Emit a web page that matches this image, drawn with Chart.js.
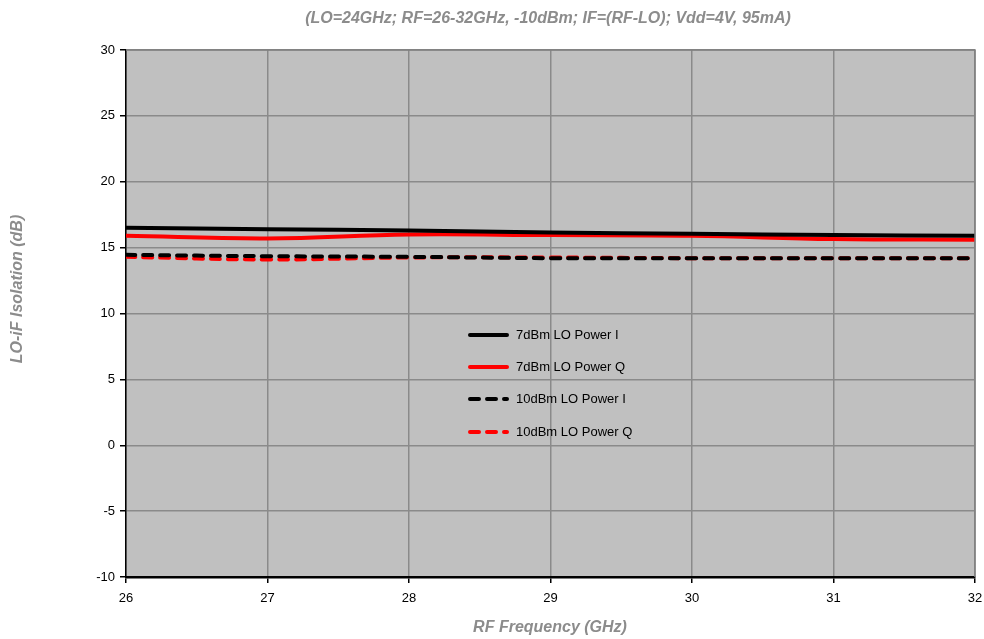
<!DOCTYPE html>
<html>
<head>
<meta charset="utf-8">
<script src="https://cdn.jsdelivr.net/npm/chart.js@4"></script>
<style>
  html, body { margin: 0; padding: 0; background: #fff; }
  #wrap { width: 984px; height: 639px; }
</style>
</head>
<body>
<div id="wrap"><canvas id="isoChart" width="984" height="639"></canvas></div>
<script>
// RF frequency points (GHz)
const freqs = [26, 27, 28, 29, 30, 31, 32];

// LO-IF isolation (dB)
const lo7I  = [16.5, 16.4, 16.3, 16.15, 16.05, 15.95, 15.9];
const lo7Q  = [15.9, 15.7, 16.0, 15.95, 15.9, 15.65, 15.6];
const lo10I = [14.45, 14.35, 14.3, 14.2, 14.2, 14.2, 14.2];
const lo10Q = [14.3, 14.1, 14.25, 14.25, 14.2, 14.2, 14.2];

const seriesNames = ['7dBm LO Power I', '7dBm LO Power Q', '10dBm LO Power I', '10dBm LO Power Q'];

const titleText = '(LO=24GHz; RF=26-32GHz, -10dBm; IF=(RF-LO); Vdd=4V, 95mA)';
const xTitle = 'RF Frequency (GHz)';
const yTitle = 'LO-iF Isolation (dB)';

function pts(vals) {
    return freqs.map((f, i) => ({ x: f, y: vals[i] }));
}

// Draws background, titles and the in-plot legend
const decor = {
    id: 'decor',
    beforeDraw(chart) {
        const { ctx, chartArea: a } = chart;
        ctx.save();
        ctx.fillStyle = '#c0c0c0';
        ctx.fillRect(a.left, a.top, a.right - a.left, a.bottom - a.top);
        ctx.restore();
    },
    afterDraw(chart) {
        const { ctx, chartArea: a } = chart;
        ctx.save();
        ctx.fillStyle = '#8c8c8c';
        ctx.font = 'italic bold 16px "Liberation Sans", Arial, sans-serif';
        ctx.textAlign = 'center';
        ctx.textBaseline = 'middle';
        ctx.fillText(titleText, 548, 19);
        ctx.fillText(xTitle, 550, 628);
        ctx.translate(18, 289);
        ctx.rotate(-Math.PI / 2);
        ctx.fillText(yTitle, 0, 0);
        ctx.restore();

        // legend
        ctx.save();
        ctx.font = '13px "Liberation Sans", Arial, sans-serif';
        ctx.textBaseline = 'middle';
        ctx.textAlign = 'left';
        const rowsY = [335, 367, 399, 432];
        chart.data.datasets.forEach((ds, i) => {
            const y = rowsY[i];
            ctx.beginPath();
            ctx.strokeStyle = ds.borderColor;
            ctx.lineWidth = 4;
            ctx.lineCap = 'round';
            ctx.setLineDash(ds.borderDash || []);
            ctx.moveTo(470, y);
            ctx.lineTo(507, y);
            ctx.stroke();
            ctx.setLineDash([]);
            ctx.fillStyle = '#000';
            ctx.fillText(seriesNames[i], 516, y);
        });
        ctx.restore();

        // top and right frame
        ctx.save();
        ctx.strokeStyle = '#808080';
        ctx.lineWidth = 1.5;
        ctx.beginPath();
        ctx.moveTo(a.left, a.top);
        ctx.lineTo(a.right, a.top);
        ctx.lineTo(a.right, a.bottom);
        ctx.stroke();
        ctx.restore();
    }
};

const ctx = document.getElementById('isoChart').getContext('2d');
new Chart(ctx, {
    type: 'line',
    data: {
        datasets: [
            { data: pts(lo7I),  borderColor: '#000000', borderWidth: 4, tension: 0.4 },
            { data: pts(lo7Q),  borderColor: '#ff0000', borderWidth: 4, tension: 0.4 },
            { data: pts(lo10I), borderColor: '#000000', borderWidth: 4, tension: 0.4, borderDash: [9, 8], borderCapStyle: 'round' },
            { data: pts(lo10Q), borderColor: '#ff0000', borderWidth: 4, tension: 0.4, borderDash: [9, 8], borderCapStyle: 'round' }
        ]
    },
    options: {
        responsive: false,
        animation: false,
        layout: { padding: { top: 50, right: 0, left: 0, bottom: 0 } },
        elements: { point: { radius: 0 } },
        plugins: { legend: { display: false }, tooltip: { enabled: false } },
        scales: {
            x: {
                type: 'linear',
                min: 26, max: 32,
                afterFit(s) { s.height = 62; s.paddingRight = 9; s.paddingLeft = 0; },
                ticks: {
                    stepSize: 1, color: '#000', padding: 8,
                    font: { family: '"Liberation Sans", Arial, sans-serif', size: 13 }
                },
                grid: { color: '#8a8a8a', lineWidth: 1.5, tickLength: 6, tickColor: '#000' },
                border: { color: '#000', width: 2.5 }
            },
            y: {
                min: -10, max: 30,
                afterFit(s) { s.width = 126; s.paddingTop = 0; s.paddingBottom = 0; },
                ticks: {
                    stepSize: 5, color: '#000', padding: 5,
                    font: { family: '"Liberation Sans", Arial, sans-serif', size: 13 }
                },
                grid: { color: '#8a8a8a', lineWidth: 1.5, tickLength: 6, tickColor: '#000' },
                border: { color: '#000', width: 1.5 }
            }
        }
    },
    plugins: [decor]
});
</script>
</body>
</html>
